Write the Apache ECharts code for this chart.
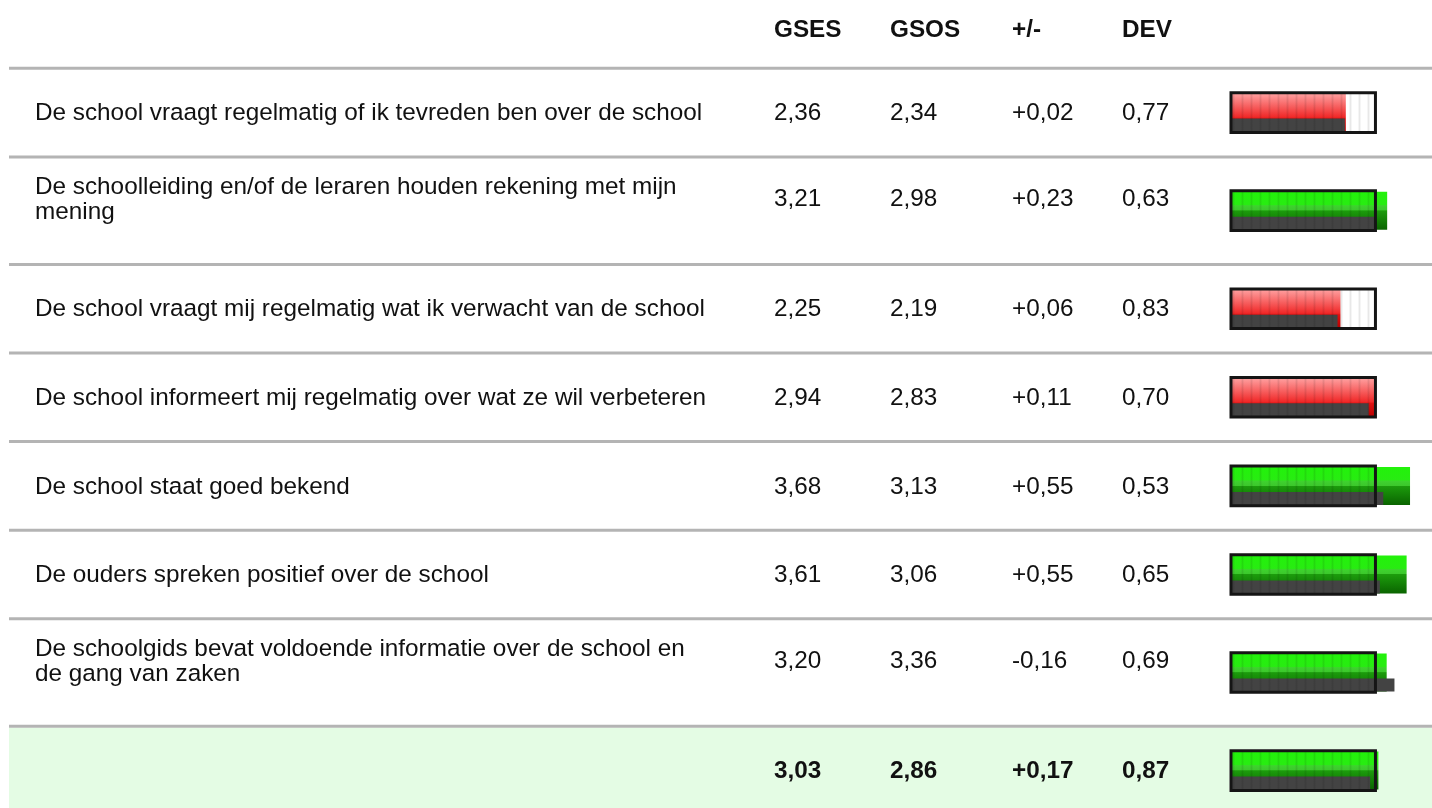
<!DOCTYPE html>
<html>
<head>
<meta charset="utf-8">
<script src="https://cdn.jsdelivr.net/npm/echarts@6/dist/echarts.min.js"></script>
<style>
  html, body { margin: 0; padding: 0; background: #fff; }
  #chart { width: 1432px; height: 808px; }
</style>
</head>
<body>
<div id="chart"></div>
<script>
// table data
const labels = [
    'De school vraagt regelmatig of ik tevreden ben over de school',
    'De schoolleiding en/of de leraren houden rekening met mijn\nmening',
    'De school vraagt mij regelmatig wat ik verwacht van de school',
    'De school informeert mij regelmatig over wat ze wil verbeteren',
    'De school staat goed bekend',
    'De ouders spreken positief over de school',
    'De schoolgids bevat voldoende informatie over de school en\nde gang van zaken'
];
const gses = [2.36, 3.21, 2.25, 2.94, 3.68, 3.61, 3.20];
const gsos = [2.34, 2.98, 2.19, 2.83, 3.13, 3.06, 3.36];
const diffs = ['+0,02', '+0,23', '+0,06', '+0,11', '+0,55', '+0,55', '-0,16'];
const devs = [0.77, 0.63, 0.83, 0.70, 0.53, 0.65, 0.69];
const headers = ['GSES', 'GSOS', '+/-', 'DEV'];

// summary row
const totalGses = 3.03;
const totalGsos = 2.86;
const totalDiff = '+0,17';
const totalDev = 0.87;

const FRAME_MAX = 3;   // capacity shown by the black frame
const AXIS_MAX = 4;

const FONT = '"Liberation Sans", Arial, Helvetica, sans-serif';
const FONT_SIZE = 24.3;
const colX = [774, 890, 1012, 1122];
const BAR_LEFT = 1231;
const BAR_WIDTH = 194.6;

const fmt = v => v.toFixed(2).replace('.', ',');

// ribbed overlay used inside the frame
function makeStripes() {
    const c = document.createElement('canvas');
    c.width = 9; c.height = 4;
    const ctx = c.getContext('2d');
    ctx.fillStyle = 'rgba(0,0,0,0.09)';
    ctx.fillRect(0, 0, 1, 4);
    ctx.fillStyle = 'rgba(0,0,0,0.04)';
    ctx.fillRect(1, 0, 1, 4);
    ctx.fillRect(8, 0, 1, 4);
    return c;
}
const stripes = makeStripes();

const redFill = new echarts.graphic.LinearGradient(0, 0, 0, 1, [
    { offset: 0, color: '#ffa0a0' },
    { offset: 0.62, color: '#f02828' },
    { offset: 0.66, color: '#dd1111' },
    { offset: 1, color: '#bb0000' }
]);
const greenFill = new echarts.graphic.LinearGradient(0, 0, 0, 1, [
    { offset: 0, color: '#22f20a' },
    { offset: 0.34, color: '#28ec12' },
    { offset: 0.37, color: '#3ed22e' },
    { offset: 0.49, color: '#3cc82c' },
    { offset: 0.5, color: '#1c9c0c' },
    { offset: 1, color: '#0a6400' }
]);

// rows incl. summary
const rows = labels.map((label, i) => ({
    label, gses: gses[i], gsos: gsos[i], diff: diffs[i], dev: devs[i], bold: false
}));
rows.push({ label: '', gses: totalGses, gsos: totalGsos, diff: totalDiff, dev: totalDev, bold: true });

const HEADER_LINE = 68.3;
const ROW1 = 88.6, ROW2 = 107.5;

const grids = [], xAxes = [], yAxes = [], series = [], graphics = [];
let y = HEADER_LINE;
const lines = [HEADER_LINE];

function addBar(gridTop, gridHeight, left, width, value, itemStyle, z) {
    const idx = grids.length;
    grids.push({ left: left, top: gridTop, width: width, height: gridHeight, containLabel: false });
    xAxes.push({ type: 'value', gridIndex: idx, min: 0, max: AXIS_MAX, show: false });
    yAxes.push({ type: 'category', gridIndex: idx, data: ['v'], show: false });
    series.push({
        type: 'bar', xAxisIndex: idx, yAxisIndex: idx, barWidth: '100%',
        data: [value], itemStyle: itemStyle, z: z, silent: true, animation: false
    });
    return idx;
}

function addText(text, x, y, bold) {
    graphics.push({
        type: 'text', z: 20,
        style: {
            text: text, x: x, y: y, fill: '#111',
            font: (bold ? 'bold ' : '') + FONT_SIZE + 'px ' + FONT,
            lineHeight: 25, textAlign: 'left', textVerticalAlign: 'middle'
        }
    });
}

rows.forEach((row) => {
    const twoLine = row.label.includes('\n');
    const h = twoLine ? ROW2 : ROW1;
    const c = y + h / 2;
    y += h;
    if (!row.bold) lines.push(y);

    if (row.bold) {
        graphics.push({
            type: 'rect', z: -10,
            shape: { x: 9, y: lines[lines.length - 1] + 1.5, width: 1432, height: 200 },
            style: { fill: '#e4fce4' }
        });
    }

    // frame background, bars, frame with overlay
    const fi = addBar(c - 21.3, 42.6, BAR_LEFT - 1.5, BAR_WIDTH + 2, FRAME_MAX, { color: '#fff' }, 10);
    series.push({
        type: 'bar', xAxisIndex: fi, yAxisIndex: fi, barWidth: '100%', barGap: '-100%',
        data: [FRAME_MAX], z: 14, silent: true, animation: false,
        itemStyle: { color: { image: stripes, repeat: 'repeat' }, borderColor: '#151515', borderWidth: 3 }
    });
    addBar(c - 19, 38, BAR_LEFT, BAR_WIDTH, row.gses, { color: row.gses >= 3 ? greenFill : redFill }, 11);
    addBar(c + 6, 13, BAR_LEFT, BAR_WIDTH, row.gsos, { color: '#434343' }, 12);

    // texts sit a little high in the two-line rows
    const ty = twoLine ? c - 11 : c + 1;
    if (row.label) addText(row.label, 35, ty, false);
    [fmt(row.gses), fmt(row.gsos), row.diff, fmt(row.dev)].forEach((t, k) => {
        addText(t, colX[k], ty, row.bold);
    });
});

headers.forEach((t, k) => addText(t, colX[k], 30, true));

lines.forEach(l => {
    graphics.push({
        type: 'rect', z: 5,
        shape: { x: 9, y: l - 1.5, width: 1432, height: 3 },
        style: { fill: '#b4b4b4' }
    });
});

const chart = echarts.init(document.getElementById('chart'));
chart.setOption({
    backgroundColor: '#fff',
    animation: false,
    grid: grids,
    xAxis: xAxes,
    yAxis: yAxes,
    series: series,
    graphic: { elements: graphics }
});
</script>
</body>
</html>
